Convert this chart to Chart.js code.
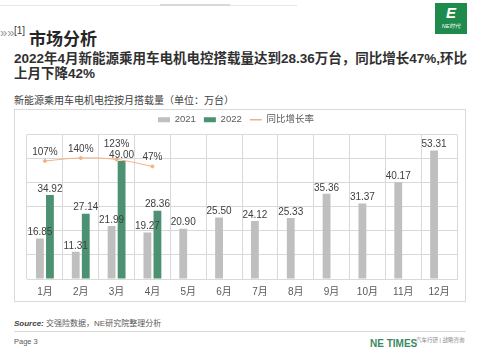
<!DOCTYPE html>
<html>
<head>
<meta charset="utf-8">
<script src="https://cdn.jsdelivr.net/npm/chart.js@4.4.1/dist/chart.umd.min.js"></script>
<style>
  html, body { margin: 0; padding: 0; background: #fff; }
  body { width: 480px; height: 360px; position: relative; overflow: hidden;
    font-family: 'Liberation Sans', 'Noto Sans CJK SC', sans-serif; color: #262626; }
  .abs { position: absolute; white-space: nowrap; }
  .topline { left: 0; top: 5px; width: 297px; height: 1px; background: #e6e6e6; }
  .topline2 { left: 160px; top: 4px; width: 70px; height: 2px; background: #d9d9d9; }
  .chev { left: 0; top: 26px; font-size: 13px; line-height: 14px; color: #999999; z-index: 2; }
  .sec { left: 14px; top: 25px; font-size: 10px; color: #404040; }
  .title { left: 29px; top: 25px; font-size: 17px; font-weight: bold; color: #262626; }
  .sub { left: 14px; top: 51px; font-size: 13.5px; font-weight: bold; line-height: 15px; color: #303030; }
  .ctitle { left: 14px; top: 92px; font-size: 10px; color: #404040; }
  .box { left: 14px; top: 109px; width: 452px; height: 193px; border: 1px solid #d9d9d9; box-sizing: border-box; }
  .box canvas { position: absolute; left: 0; top: 0; }
  .src { left: 14px; top: 317px; font-size: 8px; color: #595959; }
  .src b { font-style: italic; color: #404040; }
  .rule { left: 14px; top: 331px; width: 452px; height: 1px; background: #d9d9d9; }
  .page { left: 14px; top: 337px; font-size: 7.5px; color: #595959; }
  .times { left: 370px; top: 338px; font-size: 10px; font-weight: bold; color: #3b8a63; }
  .tag { left: 416px; top: 336px; font-size: 5.5px; color: #8c8c8c; }
  .logo { left: 435px; top: 3px; width: 32px; height: 31px; background: #1e8a4c; color: #fff; text-align: center; }
  .logo .e { font-size: 15px; font-weight: bold; font-style: italic; line-height: 20px; }
  .logo .n { font-size: 5.5px; line-height: 7px; font-style: italic; }
</style>
</head>
<body>
<div class="abs topline"></div>
<div class="abs topline2"></div>
<div class="abs chev">&raquo;&raquo;</div>
<div class="abs sec">[1]</div>
<div class="abs title">市场分析</div>
<div class="abs sub">2022年4月新能源乘用车电机电控搭载量达到28.36万台，同比增长47%,环比<br>上月下降42%</div>
<div class="abs ctitle">新能源乘用车电机电控按月搭载量（单位：万台）</div>
<div class="abs box"><canvas id="chart" width="450" height="191"></canvas></div>
<div class="abs src"><b>Source:</b> 交强险数据，NE研究院整理分析</div>
<div class="abs rule"></div>
<div class="abs page">Page 3</div>
<div class="abs times">NE TIMES</div>
<div class="abs tag">汽车行研 | 战略咨询</div>
<div class="abs logo"><div class="e">E</div><div class="n">NE时代</div></div>

<script>
const months = ['1月', '2月', '3月', '4月', '5月', '6月', '7月', '8月', '9月', '10月', '11月', '12月'];
const volume2021 = [16.85, 11.31, 21.99, 19.27, 20.90, 25.50, 24.12, 25.33, 35.36, 31.37, 40.17, 53.31];
const volume2022 = [34.92, 27.14, 49.00, 28.36, null, null, null, null, null, null, null, null];
const yoyGrowth = [107, 140, 123, 47, null, null, null, null, null, null, null, null];

const FONT = "'Liberation Sans', 'Noto Sans CJK SC', sans-serif";
Chart.defaults.font.family = FONT;

// value labels above bars and line points; line labels step up when they hit a bar label
const valueLabels = {
  id: 'valueLabels',
  afterDatasetsDraw(chart) {
    const ctx = chart.ctx;
    ctx.save();
    ctx.font = '10px ' + FONT;
    ctx.fillStyle = '#404040';
    ctx.textAlign = 'center';
    ctx.textBaseline = 'middle';
    const boxes = [];
    chart.data.datasets.forEach((ds, di) => {
      if (ds.type === 'line') return;
      chart.getDatasetMeta(di).data.forEach((el, i) => {
        const v = ds.data[i];
        if (v == null) return;
        const txt = v.toFixed(2);
        const y = el.y - 6;
        const w = ctx.measureText(txt).width;
        ctx.fillText(txt, el.x, y);
        boxes.push({ l: el.x - w / 2, r: el.x + w / 2, t: y - 5, b: y + 5 });
      });
    });
    chart.data.datasets.forEach((ds, di) => {
      if (ds.type !== 'line') return;
      chart.getDatasetMeta(di).data.forEach((el, i) => {
        const v = ds.data[i];
        if (v == null) return;
        const txt = v + '%';
        const w = ctx.measureText(txt).width;
        let y = el.y - 9;
        for (const b of boxes) {
          if (el.x + w / 2 > b.l && el.x - w / 2 < b.r && y + 5 > b.t && y - 5 < b.b) {
            y = b.t - 6;
          }
        }
        ctx.fillText(txt, el.x, y);
      });
    });
    ctx.restore();
  },
};

const legendStyles = ['rect', 'rect', 'line'];

new Chart(document.getElementById('chart'), {
  type: 'bar',
  data: {
    labels: months,
    datasets: [
      {
        label: '2021',
        data: volume2021,
        backgroundColor: '#bfbfbf',
        categoryPercentage: 0.56,
        barPercentage: 0.78,
        order: 2,
      },
      {
        label: '2022',
        data: volume2022,
        backgroundColor: '#4c9172',
        categoryPercentage: 0.56,
        barPercentage: 0.78,
        order: 2,
      },
      {
        type: 'line',
        label: '同比增长率',
        data: yoyGrowth,
        yAxisID: 'y1',
        borderColor: '#f4b183',
        backgroundColor: '#f4b183',
        borderWidth: 1,
        pointRadius: 1.5,
        tension: 0.4,
        spanGaps: false,
        order: 0,
      },
    ],
  },
  plugins: [valueLabels],
  options: {
    responsive: false,
    animation: false,
    layout: { padding: { top: -3, right: 8, left: 0, bottom: 0 } },
    plugins: {
      tooltip: { enabled: false },
      legend: {
        position: 'top',
        labels: {
          usePointStyle: true,
          pointStyleWidth: 12,
          boxHeight: 5,
          padding: 8,
          color: '#595959',
          font: { size: 9.5 },
          sort: (a, b) => a.datasetIndex - b.datasetIndex,
          generateLabels(chart) {
            const items = Chart.defaults.plugins.legend.labels.generateLabels(chart);
            items.forEach((it) => {
              const isLine = legendStyles[it.datasetIndex] === 'line';
              it.pointStyle = legendStyles[it.datasetIndex];
              it.lineWidth = isLine ? 1.5 : 0;
              it.strokeStyle = isLine ? '#f4b183' : it.fillStyle;
            });
            return items;
          },
        },
      },
    },
    scales: {
      x: {
        grid: { color: '#d9d9d9', drawTicks: false },
        border: { color: '#d9d9d9' },
        ticks: { color: '#595959', font: { size: 10 }, padding: 7 },
        afterFit(s) { s.height = 22; },
      },
      y: {
        min: 0,
        max: 60,
        ticks: { display: false, stepSize: 10 },
        grid: { color: '#d9d9d9', drawTicks: false },
        border: { display: false },
        afterFit(s) { s.width = 12; },
      },
      y1: {
        display: false,
        min: -1200,
        max: 400,
      },
    },
  },
});
</script>
</body>
</html>
